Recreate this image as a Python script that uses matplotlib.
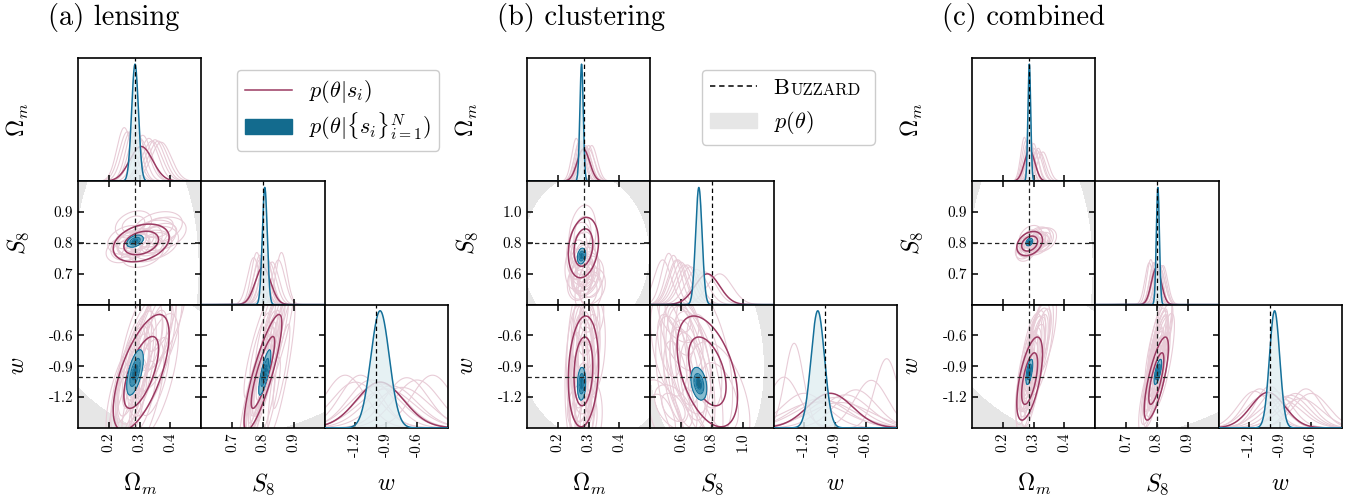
import numpy as np
import matplotlib
matplotlib.use('Agg')
import matplotlib.pyplot as plt
from matplotlib.lines import Line2D
from matplotlib.patches import Patch

plt.rcParams.update({
    'font.family': 'serif',
    'font.serif': ['cmr10'],
    'mathtext.fontset': 'cm',
    'axes.unicode_minus': False,
    'axes.formatter.use_mathtext': True,
})

# parameters: Omega_m, S_8, w
param_labels = [r'$\Omega_m$', r'$S_8$', r'$w$']
truth = [0.286, 0.8, -1.0]

om_range = (0.1, 0.5)
om_ticks = [0.2, 0.3, 0.4]
w_range = (-1.5, -0.3)
w_ticks = [-1.2, -0.9, -0.6]
s8_range_narrow = (0.6, 1.0)
s8_ticks_narrow = [0.7, 0.8, 0.9]
s8_range_wide = (0.4, 1.2)
s8_ticks_wide = [0.6, 0.8, 1.0]

# Gaussian summaries: mean (Om, S8, w), sd (Om, S8, w), corr (Om-S8, Om-w, S8-w)
# (a) lensing
lens_blue_mean = [0.285, 0.806, -0.96]
lens_blue_sd = [0.011, 0.008, 0.09]
lens_blue_corr = [0.4, 0.6, 0.8]
lens_red_mean = [0.305, 0.80, -0.96]
lens_red_sd = [0.037, 0.025, 0.23]
lens_red_corr = [0.3, 0.65, 0.85]
lens_pink_mean = [
    [0.27, 0.79, -1.05], [0.30, 0.81, -0.85], [0.34, 0.82, -0.75],
    [0.25, 0.78, -1.15], [0.36, 0.85, -0.60], [0.29, 0.80, -0.95],
    [0.31, 0.77, -1.20], [0.37, 0.83, -0.45], [0.28, 0.86, -0.90],
    [0.33, 0.79, -0.70], [0.26, 0.81, -1.30], [0.35, 0.80, -1.00],
]
lens_pink_sd = [
    [0.026, 0.019, 0.22], [0.030, 0.021, 0.25], [0.032, 0.022, 0.26],
    [0.024, 0.018, 0.20], [0.032, 0.021, 0.22], [0.026, 0.019, 0.24],
    [0.028, 0.020, 0.23], [0.033, 0.022, 0.20], [0.024, 0.018, 0.27],
    [0.030, 0.021, 0.21], [0.026, 0.019, 0.20], [0.031, 0.022, 0.25],
]
lens_pink_corr = [0.3, 0.65, 0.85]

# (b) clustering
clus_blue_mean = [0.277, 0.715, -1.07]
clus_blue_sd = [0.0055, 0.021, 0.065]
clus_blue_corr = [0.2, 0.1, -0.3]
clus_red_mean = [0.283, 0.77, -0.95]
clus_red_sd = [0.020, 0.080, 0.22]
clus_red_corr = [0.2, 0.15, -0.45]
clus_pink_mean = [
    [0.270, 0.55, -1.30], [0.290, 0.62, -0.90], [0.280, 0.70, -1.10],
    [0.300, 0.58, -0.40], [0.260, 0.66, -1.00], [0.310, 0.52, -0.70],
    [0.280, 0.85, -1.20], [0.290, 0.60, -0.55], [0.270, 0.75, -0.85],
    [0.300, 0.48, -1.40], [0.285, 0.64, -0.80], [0.275, 0.57, -1.05],
]
clus_pink_sd = [
    [0.016, 0.050, 0.09], [0.018, 0.062, 0.25], [0.017, 0.070, 0.30],
    [0.020, 0.055, 0.11], [0.015, 0.065, 0.28], [0.018, 0.048, 0.20],
    [0.018, 0.080, 0.22], [0.019, 0.058, 0.16], [0.017, 0.075, 0.30],
    [0.018, 0.055, 0.15], [0.018, 0.062, 0.23], [0.016, 0.055, 0.26],
]
clus_pink_corr = [0.2, 0.15, -0.45]

# (c) combined
comb_blue_mean = [0.286, 0.803, -0.955]
comb_blue_sd = [0.0045, 0.005, 0.05]
comb_blue_corr = [0.3, 0.6, 0.7]
comb_red_mean = [0.287, 0.798, -1.02]
comb_red_sd = [0.017, 0.016, 0.165]
comb_red_corr = [0.3, 0.6, 0.75]
comb_pink_mean = [
    [0.280, 0.790, -0.95], [0.300, 0.800, -0.80], [0.320, 0.810, -0.70],
    [0.270, 0.780, -1.10], [0.290, 0.820, -0.85], [0.310, 0.795, -0.75],
    [0.285, 0.805, -1.00], [0.330, 0.810, -0.60], [0.275, 0.775, -1.15],
    [0.300, 0.800, -0.90], [0.315, 0.815, -0.65], [0.290, 0.790, -1.05],
]
comb_pink_sd = [
    [0.014, 0.014, 0.16], [0.016, 0.015, 0.18], [0.018, 0.016, 0.20],
    [0.012, 0.013, 0.15], [0.015, 0.015, 0.19], [0.017, 0.014, 0.17],
    [0.012, 0.013, 0.14], [0.018, 0.016, 0.17], [0.013, 0.014, 0.16],
    [0.014, 0.015, 0.20], [0.016, 0.015, 0.15], [0.013, 0.014, 0.18],
]
comb_pink_corr = [0.3, 0.6, 0.75]

# prior support per 2D panel: centre x, centre y, half-width x, half-width y, rho
# pairs: (Om, S8), (Om, w), (S8, w)
lens_prior = [[0.29, 0.72, 0.203, 0.455, 0.0],
              [0.33, -0.82, 0.343, 0.829, -0.46],
              [0.72, -0.75, 0.485, 0.846, 0.17]]
clus_prior = [[0.29, 0.73, 0.2076, 0.5216, 0.0],
              [0.33, -0.70, 0.26, 0.924, 0.0],
              [0.76, -0.80, 0.38, 1.10, -0.1]]

C_PINK = '#e8ccd7'
C_RED = '#9b3a62'
C_BLUE = '#14709a'
C_BLUE_FILL = '#e0eef1'
C_BLUE_2D = ['#86bbcf', '#3f8fb0', '#1b6888']
C_PRIOR = '#e6e6e6'

W, H = 1354, 501
TOP = 58
CELL = 123.3
LEVELS = [1.52 ** 2, 2.45 ** 2]

fig = plt.figure(figsize=(W / 100, H / 100), dpi=100)

PAIR = {(0, 1): 0, (0, 2): 1, (1, 2): 2}


def mahal(X, Y, mx, my, sx, sy, rho):
    u = (X - mx) / sx
    v = (Y - my) / sy
    return (u * u - 2 * rho * u * v + v * v) / (1 - rho ** 2)


def pdf(x, m, s):
    return np.exp(-0.5 * ((x - m) / s) ** 2) / (s * np.sqrt(2 * np.pi))


def draw_corner(x0, title, ranges, ticks, blue, red, pinks, priors):
    fig.text((x0 - 30) / W, 1 - 25 / H, title, fontsize=20.5, va='baseline')
    for i in range(3):
        fig.text((x0 - 60) / W, 1 - (TOP + (i + 0.5) * CELL) / H, param_labels[i],
                 fontsize=17, rotation=90, ha='center', va='center')
        fig.text((x0 + (i + 0.5) * CELL) / W, 1 - 484 / H, param_labels[i],
                 fontsize=17, ha='center', va='center')

    for i in range(3):
        for j in range(i + 1):
            ax = fig.add_axes([(x0 + j * CELL) / W, 1 - (TOP + (i + 1) * CELL) / H,
                               CELL / W, CELL / H])
            for sp in ax.spines.values():
                sp.set_linewidth(1.2)
            xr = ranges[j]
            ax.set_xlim(xr)
            ax.set_xticks(ticks[j])
            if i == j:
                x = np.linspace(xr[0], xr[1], 600)
                for pm, ps in zip(pinks[0], pinks[1]):
                    ax.plot(x, pdf(x, pm[i], ps[i]), color=C_PINK, lw=0.8, zorder=1)
                ax.plot(x, pdf(x, red[0][i], red[1][i]), color=C_RED, lw=1.1, zorder=2)
                yb = pdf(x, blue[0][i], blue[1][i])
                ax.fill_between(x, 0, yb, color=C_BLUE_FILL, alpha=0.8, lw=0, zorder=2.5)
                ax.plot(x, yb, color=C_BLUE, lw=1.1, zorder=3)
                ax.axvline(truth[i], color='k', lw=0.9, ls=(0, (3.5, 2.5)), zorder=4)
                ax.set_ylim(0, yb.max() / 0.95)
                ax.set_yticks([])
                ax.tick_params(axis='x', direction='in', length=4, width=1.1,
                               bottom=True, top=False)
            else:
                yr = ranges[i]
                ax.set_ylim(yr)
                ax.set_yticks(ticks[i])
                k = PAIR[(j, i)]
                X, Y = np.meshgrid(np.linspace(xr[0], xr[1], 300),
                                   np.linspace(yr[0], yr[1], 300))
                pr = priors[k]
                M = mahal(X, Y, pr[0], pr[1], pr[2], pr[3], pr[4])
                ax.contourf(X, Y, M, levels=[1, 1e9], colors=[C_PRIOR], zorder=0)
                for pm, ps in zip(pinks[0], pinks[1]):
                    M = mahal(X, Y, pm[j], pm[i], ps[j], ps[i], pinks[2][k])
                    ax.contour(X, Y, M, levels=LEVELS, colors=[C_PINK],
                               linewidths=0.8, zorder=1)
                M = mahal(X, Y, red[0][j], red[0][i], red[1][j], red[1][i], red[2][k])
                ax.contour(X, Y, M, levels=LEVELS, colors=[C_RED],
                           linewidths=1.1, zorder=2)
                M = mahal(X, Y, blue[0][j], blue[0][i], blue[1][j], blue[1][i], blue[2][k])
                ax.contourf(X, Y, M, levels=[0, 0.8 ** 2] + LEVELS,
                            colors=C_BLUE_2D[::-1], zorder=3)
                ax.contour(X, Y, M, levels=[0.8 ** 2] + LEVELS, colors=[C_BLUE],
                           linewidths=0.8, zorder=3.5)
                ax.axvline(truth[j], color='#222222', lw=0.9, ls=(0, (3.5, 2.5)), zorder=4)
                ax.axhline(truth[i], color='#222222', lw=0.9, ls=(0, (3.5, 2.5)), zorder=4)
                ax.tick_params(direction='in', length=4, width=1.1,
                               top=True, right=True, bottom=True, left=True)
            if i == 2:
                ax.set_xticklabels([f'{t:.1f}' for t in ticks[j]], rotation=90,
                                   fontsize=11)
            else:
                ax.tick_params(labelbottom=False)
            if j == 0 and i > 0:
                ax.set_yticklabels([f'{t:.1f}' for t in ticks[i]], fontsize=11)
            else:
                ax.tick_params(labelleft=False)


draw_corner(78, '(a) lensing', [om_range, s8_range_narrow, w_range],
            [om_ticks, s8_ticks_narrow, w_ticks],
            (lens_blue_mean, lens_blue_sd, lens_blue_corr),
            (lens_red_mean, lens_red_sd, lens_red_corr),
            (lens_pink_mean, lens_pink_sd, lens_pink_corr), lens_prior)
draw_corner(527, '(b) clustering', [om_range, s8_range_wide, w_range],
            [om_ticks, s8_ticks_wide, w_ticks],
            (clus_blue_mean, clus_blue_sd, clus_blue_corr),
            (clus_red_mean, clus_red_sd, clus_red_corr),
            (clus_pink_mean, clus_pink_sd, clus_pink_corr), clus_prior)
draw_corner(972, '(c) combined', [om_range, s8_range_narrow, w_range],
            [om_ticks, s8_ticks_narrow, w_ticks],
            (comb_blue_mean, comb_blue_sd, comb_blue_corr),
            (comb_red_mean, comb_red_sd, comb_red_corr),
            (comb_pink_mean, comb_pink_sd, comb_pink_corr), lens_prior)

leg_kw = dict(loc='upper left', fontsize=16, frameon=True, fancybox=True,
              edgecolor='#cccccc', framealpha=1.0, handlelength=2.1,
              borderpad=0.38, handletextpad=0.75, borderaxespad=0)
leg_a = fig.legend([Line2D([], [], color=C_RED, lw=1.1),
                    Patch(facecolor='#136b8e', edgecolor='#136b8e')],
                   [r'$p(\theta|s_i)$', r'$p(\theta|\{s_i\}_{i=1}^N)$'],
                   bbox_to_anchor=(237 / W, 1 - 70 / H), labelspacing=0.22,
                   **leg_kw)
leg_b = fig.legend([Line2D([], [], color='k', lw=1.1, ls=(0, (3.5, 2.5))),
                    Patch(facecolor=C_PRIOR, edgecolor=C_PRIOR)],
                   ['BUZZAR', r'$p(\theta)$'],
                   bbox_to_anchor=(702 / W, 1 - 70 / H), labelspacing=0.5,
                   **leg_kw)
leg_b.get_texts()[0].set_alpha(0)

# small-caps label drawn over the placeholder entry
fig.canvas.draw()
bb = leg_b.get_texts()[0].get_window_extent()
x_b, y_b = fig.transFigure.inverted().transform((bb.x0, bb.y0))
t_b = fig.text(x_b, y_b, 'B', fontsize=16, va='bottom', ha='left', zorder=10)
fig.canvas.draw()
bb2 = t_b.get_window_extent()
x_u, _ = fig.transFigure.inverted().transform((bb2.x1 + 0.5, bb2.y0))
fig.text(x_u, y_b, 'UZZARD', fontsize=12, va='bottom', ha='left', zorder=10)

fig.savefig('out.png', dpi=100)
